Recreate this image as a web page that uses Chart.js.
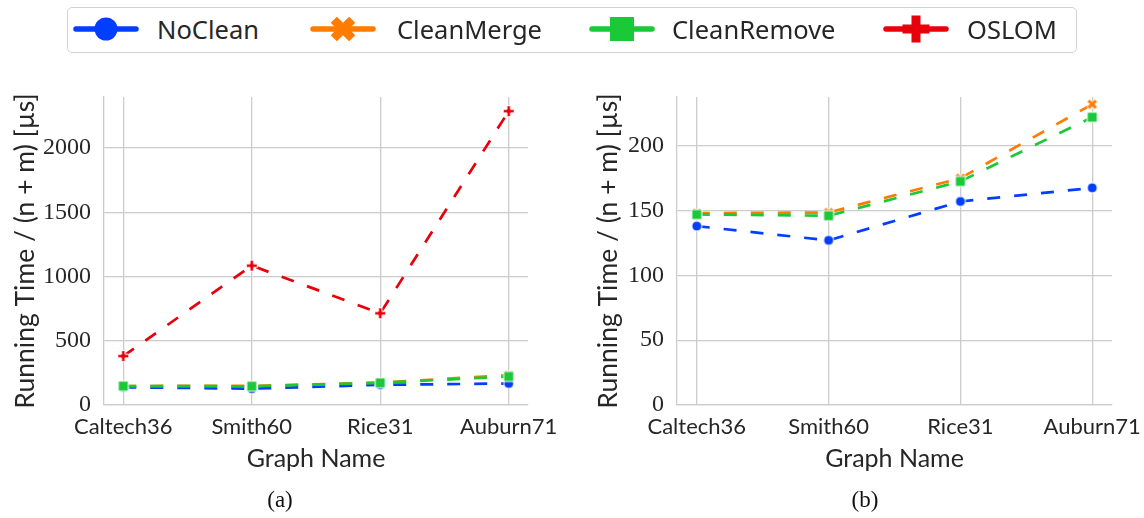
<!DOCTYPE html>
<html><head><meta charset="utf-8">
<script src="https://cdn.jsdelivr.net/npm/chart.js@4.4.1/dist/chart.umd.min.js"></script>
<style>
html,body{margin:0;padding:0;background:#fff;width:1144px;height:518px;overflow:hidden;position:relative}
#c1{position:absolute;left:0;top:0}
#c2{position:absolute;left:580px;top:0}
.cap{position:absolute;font-family:"Liberation Serif",serif;font-size:23px;color:#111;top:487px;line-height:26px;transform:translateX(-50%)}
#legend{position:absolute;left:67px;top:7px;width:1010px;height:46px;border:1.5px solid #d2d2d2;border-radius:5px;box-sizing:border-box}
.lt{position:absolute;top:13px;line-height:32px;font-family:"Noto Sans",sans-serif;font-size:25.5px;color:#262626;white-space:nowrap}
.li{position:absolute;top:13px}
</style></head>
<body>
<div id="legend"></div>
<canvas class="li" id="i0" width="70" height="32" style="left:71px"></canvas>
<canvas class="li" id="i1" width="70" height="32" style="left:308px"></canvas>
<canvas class="li" id="i2" width="70" height="32" style="left:587px"></canvas>
<canvas class="li" id="i3" width="70" height="32" style="left:881px"></canvas>
<div class="lt" style="left:157px">NoClean</div>
<div class="lt" style="left:397px">CleanMerge</div>
<div class="lt" style="left:672px">CleanRemove</div>
<div class="lt" style="left:967px">OSLOM</div>
<canvas id="c1" width="580" height="518"></canvas>
<canvas id="c2" width="564" height="518"></canvas>
<div class="cap" style="left:280px">(a)</div>
<div class="cap" style="left:865px">(b)</div>
<script>
// ---- data ----
const graphNames = ['Caltech36', 'Smith60', 'Rice31', 'Auburn71'];
const noClean = [138, 127, 157, 167.5];
const cleanMerge = [148, 148.5, 175, 232];
const cleanRemove = [147, 146, 172.5, 222];
const oslom = [381, 1085, 714, 2288];
const leftYTicks = [0, 500, 1000, 1500, 2000];
const rightYTicks = [0, 50, 100, 150, 200];
const seriesNames = ['NoClean', 'CleanMerge', 'CleanRemove', 'OSLOM'];

const colors = ['#023eff', '#ff7c00', '#1ac938', '#e8000b'];
const shapes = ['circle', 'x', 'square', 'plus'];

function markerPath(ctx, shape, size) {
  ctx.beginPath();
  if (shape === 'circle') {
    ctx.arc(0, 0, size / 2, 0, Math.PI * 2);
  } else if (shape === 'square') {
    ctx.rect(-size / 2, -size / 2, size, size);
  } else {
    const v = [[-1,-3],[-1,-1],[-3,-1],[-3,1],[-1,1],[-1,3],[1,3],[1,1],[3,1],[3,-1],[1,-1],[1,-3]];
    const a = shape === 'x' ? Math.PI / 4 : 0;
    v.forEach((p, i) => {
      const x = p[0] / 6 * size, y = p[1] / 6 * size;
      const rx = x * Math.cos(a) - y * Math.sin(a), ry = x * Math.sin(a) + y * Math.cos(a);
      if (i === 0) ctx.moveTo(rx, ry); else ctx.lineTo(rx, ry);
    });
    ctx.closePath();
  }
}
function drawMarker(ctx, shape, color, size, x, y, edge) {
  ctx.save();
  ctx.translate(x, y);
  markerPath(ctx, shape, size);
  ctx.fillStyle = color;
  ctx.fill();
  if (edge > 0) { ctx.lineWidth = edge; ctx.strokeStyle = '#ffffff'; ctx.stroke(); }
  ctx.restore();
}
function makeMarker(shape, color, size) {
  const c = document.createElement('canvas');
  const s = Math.ceil(size * 1.2) + 4;
  c.width = s; c.height = s;
  drawMarker(c.getContext('2d'), shape, color, size, s / 2, s / 2, 1);
  return c;
}
// legend icons
const legendSizes = [23, 26, 24, 27];
for (let i = 0; i < 4; i++) {
  const ctx = document.getElementById('i' + i).getContext('2d');
  ctx.strokeStyle = colors[i];
  ctx.lineWidth = 5.5;
  ctx.lineCap = 'round';
  ctx.beginPath(); ctx.moveTo(5, 16); ctx.lineTo(65, 16); ctx.stroke();
  drawMarker(ctx, shapes[i], colors[i], legendSizes[i], 35, 16, 0);
}

const chartSizes = [10, 11, 10, 11];
const allSeries = [noClean, cleanMerge, cleanRemove, oslom];

function makeDataset(i) {
  return {
    label: seriesNames[i],
    data: allSeries[i].map((v, k) => ({ x: k, y: v })),
    borderColor: colors[i],
    backgroundColor: colors[i],
    borderWidth: 2.7,
    borderDash: [13, 14],
    tension: 0,
    pointStyle: makeMarker(shapes[i], colors[i], chartSizes[i]),
    order: 4 - i
  };
}

const tickFont = { family: 'Lato', size: 22 };
const xTitleFont = { family: 'Lato', size: 25 };
const yTitleFont = { family: 'Lato', size: 26.5 };
const gridColor = '#cccccc';

function makeOptions(yMax, yTicks, yWidth, yTitlePad, padRight) {
  return {
    responsive: false,
    animation: false,
    events: [],
    layout: { padding: { left: 0, top: 97, right: padRight, bottom: 0 } },
    plugins: { legend: { display: false }, tooltip: { enabled: false } },
    scales: {
      x: {
        type: 'linear',
        min: -0.15, max: 3.15,
        afterBuildTicks: s => { s.ticks = graphNames.map((_, k) => ({ value: k })); },
        afterFit: s => { s.height = 113; s.paddingLeft = 0; s.paddingRight = 0; },
        ticks: {
          autoSkip: false, maxRotation: 0, padding: 9,
          color: '#262626', font: tickFont,
          callback: v => graphNames[v]
        },
        grid: { color: gridColor, lineWidth: 1.3, drawTicks: false },
        border: { color: gridColor, width: 1.3 },
        title: { display: true, text: 'Graph Name', color: '#262626', font: xTitleFont, padding: { top: 0, bottom: 44 } }
      },
      y: {
        type: 'linear',
        min: 0, max: yMax,
        afterBuildTicks: s => { s.ticks = yTicks.map(v => ({ value: v })); },
        afterFit: s => { s.width = yWidth; s.paddingTop = 0; s.paddingBottom = 0; },
        ticks: {
          padding: 13, color: '#262626',
          font: { family: '"Liberation Serif", serif', size: 24 },
          callback: v => String(v)
        },
        grid: { color: gridColor, lineWidth: 1.3, drawTicks: false },
        border: { color: gridColor, width: 1.3 },
        title: { display: true, text: 'Running Time / (n + m) [µs]', color: '#262626', font: yTitleFont, padding: { top: yTitlePad, bottom: 0 } }
      }
    }
  };
}

new Chart(document.getElementById('c1'), {
  type: 'line',
  data: { datasets: [0, 1, 2, 3].map(makeDataset) },
  options: makeOptions(2398, leftYTicks, 104, 10, 52)
});
new Chart(document.getElementById('c2'), {
  type: 'line',
  data: { datasets: [0, 1, 2].map(makeDataset) },
  options: makeOptions(237.6, rightYTicks, 97, 13, 32)
});
</script>
</body></html>
